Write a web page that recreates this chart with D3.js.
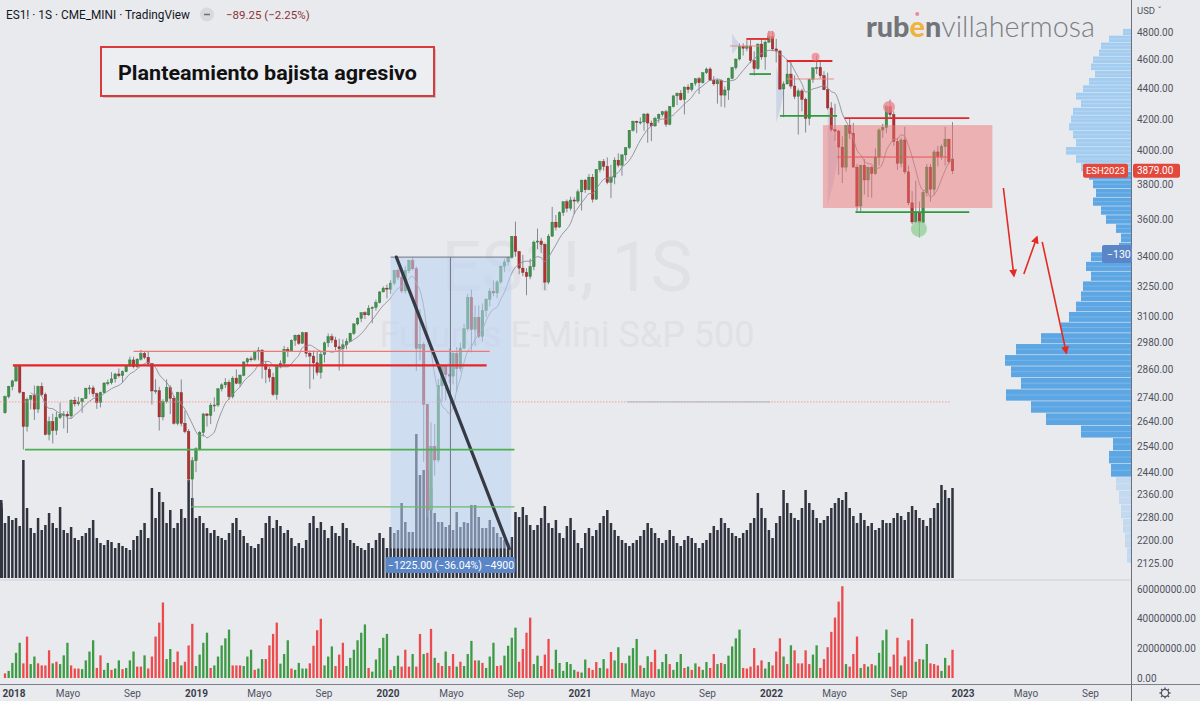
<!DOCTYPE html>
<html><head><meta charset="utf-8">
<script src="https://cdn.jsdelivr.net/npm/d3@7"></script>
<style>
html,body{margin:0;padding:0;background:#e9eaee;}
svg{display:block;font-family:Roboto,"Noto Sans",sans-serif;}
</style></head><body>
<svg id="chart" width="1200" height="701"></svg>
<script>
// ---------------- DATA ----------------
const firstWeek = "2018-01-01";
// weekly [open, high, low, close]
const ohlc = [
[2676,2748,2672,2743],[2743,2789,2735,2786],[2786,2815,2770,2810],[2810,2878,2805,2873],[2873,2880,2755,2762],
[2762,2763,2529,2620],[2620,2740,2600,2732],[2732,2750,2690,2747],[2747,2790,2647,2691],[2691,2790,2675,2786],
[2786,2803,2745,2752],[2752,2760,2585,2588],[2588,2660,2565,2640],[2640,2672,2553,2604],[2604,2680,2586,2656],
[2656,2718,2650,2670],[2670,2683,2612,2670],[2670,2682,2594,2663],[2663,2732,2655,2728],[2728,2742,2702,2713],
[2713,2742,2705,2721],[2721,2736,2676,2735],[2735,2780,2733,2779],[2779,2792,2753,2780],[2780,2790,2742,2755],
[2755,2760,2692,2718],[2718,2764,2698,2760],[2760,2804,2757,2801],[2801,2816,2790,2802],[2802,2848,2795,2819],
[2819,2845,2803,2840],[2840,2864,2825,2833],[2833,2856,2803,2850],[2850,2877,2848,2875],[2875,2917,2873,2902],
[2902,2916,2865,2872],[2872,2910,2866,2905],[2905,2947,2899,2930],[2930,2940,2905,2914],[2914,2940,2874,2886],
[2886,2888,2710,2767],[2767,2817,2755,2768],[2768,2785,2604,2659],[2659,2732,2645,2723],[2723,2817,2715,2781],
[2781,2791,2671,2736],[2736,2746,2628,2633],[2633,2764,2625,2760],[2760,2816,2621,2633],[2633,2685,2593,2600],
[2600,2610,2408,2417],[2417,2500,2317,2486],
[2486,2538,2443,2532],[2532,2602,2525,2596],[2596,2675,2580,2671],[2671,2675,2620,2665],[2665,2716,2630,2707],
[2707,2740,2680,2708],[2708,2780,2700,2776],[2776,2800,2765,2793],[2793,2822,2780,2804],[2804,2815,2730,2743],
[2743,2830,2735,2822],[2822,2860,2796,2800],[2800,2840,2785,2834],[2834,2896,2830,2893],[2893,2912,2880,2907],
[2907,2918,2895,2905],[2905,2944,2898,2940],[2940,2960,2900,2946],[2946,2950,2820,2881],[2881,2895,2800,2860],
[2860,2870,2806,2826],[2826,2845,2745,2752],[2752,2880,2730,2873],[2873,2900,2865,2887],[2887,2965,2880,2950],
[2950,2960,2915,2942],[2942,2995,2940,2990],[2990,3017,2965,3014],[3014,3020,2970,2977],[2977,3030,2975,3026],
[3026,3029,2914,2932],[2932,2945,2776,2919],[2919,2945,2817,2889],[2889,2940,2834,2847],[2847,2940,2820,2926],
[2926,2985,2890,2979],[2979,3022,2960,3007],[3007,3021,2978,2992],[2992,3007,2945,2961],[2961,2998,2855,2952],
[2952,2995,2874,2970],[2970,3000,2950,2986],[2986,3027,2985,3023],[3023,3070,3015,3067],[3067,3098,3060,3093],
[3093,3122,3075,3120],[3120,3127,3090,3110],[3110,3156,3105,3141],[3141,3150,3070,3146],[3146,3183,3130,3169],
[3169,3225,3165,3221],[3221,3248,3220,3240],
[3240,3258,3190,3235],[3235,3280,3212,3265],[3265,3332,3255,3330],[3330,3338,3280,3295],[3295,3338,3215,3226],
[3226,3350,3214,3328],[3328,3385,3315,3380],[3380,3397,3330,3338],[3338,3350,2853,2954],[2954,3137,2900,2972],
[2972,2982,2482,2711],[2711,2713,2280,2305],[2305,2637,2174,2541],[2541,2630,2430,2489],[2489,2818,2480,2790],
[2790,2880,2720,2875],[2875,2880,2727,2837],[2837,2954,2800,2831],[2831,2940,2795,2930],[2930,2960,2766,2864],
[2864,2980,2850,2955],[2955,3068,2950,3044],[3044,3211,3035,3194],[3194,3233,2936,3041],[3041,3155,2965,3098],
[3098,3155,3000,3009],[3009,3165,2985,3130],[3130,3190,3100,3185],[3185,3240,3150,3225],[3225,3280,3200,3216],
[3216,3280,3190,3271],[3271,3354,3260,3351],[3351,3390,3320,3373],[3373,3400,3355,3397],[3397,3510,3390,3508],
[3508,3588,3400,3427],[3427,3430,3310,3341],[3341,3410,3300,3319],[3319,3340,3205,3298],[3298,3390,3285,3348],
[3348,3485,3330,3477],[3477,3550,3440,3483],[3483,3500,3420,3465],[3465,3470,3230,3270],[3270,3520,3260,3509],
[3509,3670,3505,3585],[3585,3625,3540,3558],[3558,3645,3555,3638],[3638,3700,3620,3699],[3699,3712,3640,3663],
[3663,3728,3650,3709],[3709,3725,3630,3703],[3703,3770,3690,3756],
[3756,3826,3650,3824],[3824,3830,3750,3768],[3768,3860,3765,3841],[3841,3860,3695,3714],[3714,3890,3710,3886],
[3886,3940,3870,3934],[3934,3950,3880,3906],[3906,3960,3800,3811],[3811,3915,3720,3842],[3842,3960,3800,3943],
[3943,3985,3900,3913],[3913,3980,3850,3975],[3975,4020,3940,4019],[4019,4130,4010,4128],[4128,4190,4120,4185],
[4185,4190,4110,4180],[4180,4210,4165,4181],[4181,4237,4125,4232],[4232,4240,4050,4174],[4174,4190,4060,4156],
[4156,4215,4150,4204],[4204,4235,4175,4229],[4229,4252,4215,4247],[4247,4260,4150,4166],[4166,4285,4160,4280],
[4280,4355,4275,4352],[4352,4375,4290,4369],[4369,4390,4320,4327],[4327,4415,4230,4411],[4411,4430,4370,4395],
[4395,4440,4380,4437],[4437,4470,4420,4468],[4468,4480,4365,4441],[4441,4510,4435,4509],[4509,4545,4500,4535],
[4535,4548,4455,4458],[4458,4485,4420,4433],[4433,4465,4300,4455],[4455,4465,4280,4357],[4357,4415,4275,4391],
[4391,4475,4325,4471],[4471,4550,4465,4545],[4545,4608,4530,4605],[4605,4715,4595,4697],[4697,4718,4630,4682],
[4682,4740,4660,4698],[4698,4745,4575,4595],[4595,4660,4490,4538],[4538,4715,4530,4712],[4712,4750,4600,4620],
[4620,4740,4530,4726],[4726,4808,4720,4766],
[4766,4808,4660,4677],[4677,4750,4580,4662],[4662,4670,4390,4398],[4398,4450,4212,4432],[4432,4590,4430,4500],
[4500,4595,4400,4418],[4418,4490,4330,4349],[4349,4400,4101,4385],[4385,4400,4250,4329],[4329,4340,4114,4204],
[4204,4470,4160,4463],[4463,4545,4440,4543],[4543,4630,4500,4546],[4546,4590,4470,4488],[4488,4520,4390,4393],
[4393,4510,4260,4272],[4272,4310,4120,4132],[4132,4300,4062,4123],[4123,4130,3855,4023],[4023,4090,3807,3901],
[3901,4160,3875,4158],[4158,4200,4073,4109],[4109,4175,3900,3901],[3901,3920,3639,3675],[3675,3915,3640,3912],
[3912,3950,3740,3825],[3825,3905,3725,3899],[3899,3910,3723,3863],[3863,4015,3855,3962],[3962,4140,3910,4130],
[4130,4170,4080,4145],[4145,4290,4110,4280],[4280,4327,4210,4228],[4228,4250,4030,4057],[4057,4080,3885,3924],
[3924,4080,3900,4067],[4067,4150,3860,3873],[3873,3910,3680,3693],[3693,3760,3575,3586],[3586,3820,3580,3640],
[3640,3700,3502,3583],[3583,3765,3580,3752],[3752,3920,3730,3901],[3901,3920,3700,3771],[3771,4005,3735,3993],
[3993,4030,3905,3965],[3965,4040,3945,4026],[4026,4150,3910,4072],[4072,4075,3918,3934],[3950,4180,3860,3879]
];
// gray volume shown inside the price pane (hundred-thousand contracts)
const volumeMain = [
55,62,58,60,52,118,70,50,45,60,48,53,65,55,50,71,48,45,51,40,38,42,45,50,58,40,35,33,38,36,30,35,32,30,28,38,
42,48,55,40,90,60,86,76,55,68,50,55,69,60,98,80,60,
62,55,50,45,48,42,40,38,45,55,60,48,42,35,32,30,34,40,55,62,50,58,52,45,48,40,32,35,30,38,55,62,50,56,48,40,52,45,
42,55,50,38,35,32,30,28,35,30,38,45,40,30,
51,45,48,75,56,46,46,144,103,108,108,89,65,56,56,51,53,48,66,51,56,55,73,73,61,50,50,58,51,45,41,38,35,41,66,61,71,63,53,48,53,
60,72,55,50,58,45,40,52,60,48,35,30,45,50,42,48,55,62,68,55,48,42,38,35,32,35,38,42,48,55,50,45,40,35,38,
48,42,35,32,38,42,40,35,30,35,38,45,52,48,60,55,50,45,42,40,45,48,55,60,85,70,60,48,40,55,
62,88,75,65,60,58,70,88,75,68,60,55,58,62,70,75,80,78,86,70,62,55,65,58,52,55,48,50,58,55,
55,60,65,62,58,66,72,68,60,58,52,60,70,75,93,88,80,90,78,75,70,65,60,62,68,45,50,71
];
// lower pane volume (millions)
const volumeLower = [
3.1,4.8,10.2,17,23.8,9.9,28,9.4,14.5,9.9, 8.5,8.5,18.7,9.9,11,9.4,15.3,23.8,8.5,6.4,
6.4,6,11.9,17.9,25.5,6.8,15.3,5.5,10.2,5.5, 6.4,11.9,6,6.8,11.9,17.9,7.7,7.7,15.3,6.4,
14.5,28,37.4,51,12.8,19.6,10.8,17.9,8.5,11, 22,36.6,8.1,15.8,23.8,30.6,6.8,8.5,14.5,22,
26.8,32.7,8.5,8.5,8.5,8.1,14.5,19.1,5.5,6.4, 12.8,12.8,22,29.8,37.4,9.7,16.2,25.5,6.4,5.5,
10.2,6.4,6.4,9.9,21.8,32.3,40,8.5,14.5,21.3, 8.1,15.8,23.8,8.1,13.6,19.1,25.5,30.6,36.2,6.8,
4.3,12.5,20.2,27.2,29.8,5.5,8.1,15.1,7.7,19.1, 7.7,16.2,7.7,29.8,16.2,17,33.2,13.6,10.2,8.1,
17.9,8.1,16.2,7.7,11,8.1,16.2,25.1,11.9,11.9, 10.2,6.8,14.5,23.8,8.1,8.5,15.1,21.8,27.2,34,
11,19.6,30.6,40.8,9.4,15.1,8.1,15.8,26.4,6, 19.1,10.2,4.8,10.8,9.4,5.5,4.3,3.7,12.5,6.8,
5.5,10.8,6.8,12.8,
6.4,17.6,11.9,20.8,10.2,9.9,15.1,20.2,26.4,8.5, 6.8,14.7,10.8,19.1,6,10.8,16.2,9.4,5.5,10.8,
16.2,6.8,7.7,5.5,9.9,7.7,5.5,10.8,6.8, 16.2,9.4,10.2,9.4,15.1,21.3,26.8,32.7,6.8,6.4,
7.7,20.2,8.5,11.9,6.4,10.8,8.5,17.9,26.8,14.5, 9.4,22.1,18.7,9.9,9.9,18.7,9.4,15.8,22.1,6.8,
12.8,20.8,31.2,40.8,51.6,62,9.4,7.7,16.2,28, 6.8,9.4,7.7,9.4,8.5,17,25.5,32.7,7.7,15.8,
27.2,8.5,14.5,25.5,40,11,12.8,12.5,23,9.9, 9.4,8.5,4.8,13.6,8.5,19.1
];
const volumeLowerSide = ("rggggrrggr"+"rrrgrgggrr"+"rggggrrggr"+"ggrgggrrgr"+"rrrrggrrgr"+"rrggggrggg"+
 "ggrrrgggrg"+"grrrrgggrg"+"gggrrrrggg"+"rrrggggggr"+"gggggrggrr"+"rgrrgrrgrr"+"grrgrgggrg"+"rgggrrgggg"+
 "rrrrggrrrr"+"ggggggrggr"+"rrgg"+
 "rrggrggggr"+"ggrrgggrgg"+"grgrgrggr"+"rgrgggggrr"+"rrrrggrrrg"+"rgrrrrrggr"+"rrrrrrgrrr"+"grgrggggrr"+
 "rgrrrgrggr"+"rrggrr").split("");
// volume profile rows (centre price, 50-pt rows) and their volume
const profilePrices = [2150,2200,2250,2300,2350,2400,2450,2500,2550,2600,2650,2700,2750,2800,2850,2900,2950,3000,
 3050,3100,3150,3200,3250,3300,3350,3400,3450,3500,3550,3600,3650,3700,3750,3800,3850,3900,3950,4000,4050,4100,
 4150,4200,4250,4300,4350,4400,4450,4500,4550,4600,4650,4700,4750,4800];
const profileVolumes = [4,6,8,10,12,15,20,22,18,50,85,100,125,110,120,126,115,90,70,62,55,50,48,40,45,40,12,10,15,
 25,30,38,35,38,42,50,55,65,55,58,62,60,58,50,55,48,42,36,40,38,32,30,22,8];
const valueArea = [2425, 3875];
// small fixed-range profiles drawn on the chart: [start date, top price, bottom price, width in weeks]
const rangeProfiles = [
 ["2021-10-18", 4790, 4640, 2],
 ["2022-01-10", 4560, 4180, 2],
 ["2022-04-18", 4300, 3680, 3]
];
const priceTicks = [4800,4600,4400,4200,4000,3800,3600,3400,3250,3100,2980,2860,2740,2640,2540,2440,2360,2280,2200,2125];
const lowerTicks = [0,20000000,40000000,60000000];
const timeTickDates = ["2018-01-01","2018-05-01","2018-09-01","2019-01-01","2019-05-01","2019-09-01","2020-01-01",
 "2020-05-01","2020-09-01","2021-01-01","2021-05-01","2021-09-01","2022-01-01","2022-05-01","2022-09-01",
 "2023-01-01","2023-05-01","2023-09-01"];
const timeTickLabels = ["2018","Mayo","Sep","2019","Mayo","Sep","2020","Mayo","Sep","2021","Mayo","Sep","2022","Mayo",
 "Sep","2023","Mayo","Sep"];
const lastPrice = 3879;

// annotations: date/price anchored
const hLines = [
 {a:"2018-01-16",b:"2020-07-07",p:2878,c:"#e3262b",w:2.2},
 {a:"2018-09-03",b:"2020-07-13",p:2940,c:"#ee7777",w:1.2},
 {a:"2018-02-08",b:"2020-08-29",p:2529,c:"#4caf50",w:1.6},
 {a:"2018-12-22",b:"2020-08-29",p:2316,c:"#66bb6a",w:1.1},
 {a:"2021-11-14",b:"2021-12-28",p:4749,c:"#e3262b",w:1.8},
 {a:"2021-10-14",b:"2021-12-10",p:4698,c:"#f08a8a",w:1},
 {a:"2021-11-20",b:"2021-12-31",p:4500,c:"#2e9a3a",w:1.8},
 {a:"2022-01-30",b:"2022-04-27",p:4591,c:"#e3262b",w:1.8},
 {a:"2022-01-30",b:"2022-04-30",p:4466,c:"#f08a8a",w:1},
 {a:"2022-01-17",b:"2022-05-06",p:4220,c:"#2e9a3a",w:1.8},
 {a:"2022-05-20",b:"2023-01-13",p:4206,c:"#e3262b",w:1.8},
 {a:"2022-05-06",b:"2022-12-05",p:3962,c:"#e85555",w:1},
 {a:"2022-06-10",b:"2023-01-13",p:3641,c:"#2e9a3a",w:1.8}
];
const circles = [
 {d:"2021-12-31",p:4778,r:4,c:"#ef7f86"},
 {d:"2022-03-26",p:4621,r:4,c:"#ef7f86"},
 {d:"2022-08-13",p:4278,r:6,c:"#ef7f86"},
 {d:"2022-10-09",p:3548,r:8,c:"#8fcf93"}
];
const arrows = [
 {a:"2023-03-19",pa:3778,b:"2023-04-08",pb:3301},
 {a:"2023-04-27",pa:3311,b:"2023-05-22",pb:3505},
 {a:"2023-06-01",pa:3478,b:"2023-07-17",pb:2933}
];

// ---------------- CHART ----------------
const svg = d3.select("#chart");
const W = 1200, H = 701, axisX = 1131;
const D = s => new Date(s + "T00:00:00Z");
const x = d3.scaleUtc().domain([D("2018-01-01"), D("2023-01-01")]).range([5, 963]);
const y = d3.scaleLog().domain([2125, 4800]).range([563, 32]);
const yVolMain = d3.scaleLinear().domain([0, 150]).range([578, 428]);
const yVolLow = d3.scaleLinear().domain([0, 60]).range([678, 589.2]);
const profW = d3.scaleLinear().domain([0, 130]).range([0, 130]);
const dates = ohlc.map((d, i) => d3.utcDay.offset(D(firstWeek), 7 * i));
const bw = 2.5;

svg.append("rect").attr("width", W).attr("height", H).attr("fill", "#e9eaee");

// watermark
svg.append("text").attr("x", 567).attr("y", 291).attr("text-anchor", "middle")
  .attr("font-size", 70).attr("fill", "#e0e1e6").text("ES1!, 1S");
svg.append("text").attr("x", 567).attr("y", 347).attr("text-anchor", "middle")
  .attr("font-size", 36).attr("fill", "#e0e1e6").text("Futuros E-Mini S&P 500");

// volume profile
const rowH = p => [y(p + 25), y(p - 25)];
const pg = svg.append("g");
pg.selectAll("rect").data(profilePrices).join("rect")
  .attr("x", (p, i) => axisX - profW(profileVolumes[i]))
  .attr("y", p => rowH(p)[0] + 0.3)
  .attr("width", (p, i) => profW(profileVolumes[i]))
  .attr("height", p => Math.max(0.5, rowH(p)[1] - rowH(p)[0] - 0.6))
  .attr("fill", p => p < valueArea[0] ? "#c2d9ef" : (p <= valueArea[1] ? "#5da6e4" : "#a2ccf0"));
pg.selectAll("line").data(profilePrices).join("line")
  .attr("x1", (p, i) => axisX - profW(profileVolumes[i])).attr("x2", axisX)
  .attr("y1", p => y(p)).attr("y2", p => y(p))
  .attr("stroke", p => p < valueArea[0] ? "#d6e5f3" : (p <= valueArea[1] ? "#8cc0ec" : "#c4def5")).attr("stroke-width", 0.6);

// small fixed-range profiles (faint)
svg.append("g").selectAll("path").data(rangeProfiles).join("path")
  .attr("d", r => {
    const x0 = x(D(r[0])), x1 = x(d3.utcDay.offset(D(r[0]), 7 * r[3]));
    const y0 = y(r[1]), y1 = y(r[2]), ym = (y0 + y1) / 2;
    return `M${x0},${y0} L${x0 + (x1 - x0) * 0.4},${y0 + (y1 - y0) * 0.25} L${x1},${ym} L${x0 + (x1 - x0) * 0.5},${y1 - (y1 - y0) * 0.2} L${x0},${y1} Z`;
  })
  .attr("fill", "#9fb0d8").attr("opacity", 0.35);

// gray volume in price pane
svg.append("g").selectAll("rect").data(volumeMain).join("rect")
  .attr("x", (v, i) => x(dates[i]) - bw / 2).attr("width", bw)
  .attr("y", v => yVolMain(v)).attr("height", v => yVolMain(0) - yVolMain(v))
  .attr("fill", "#30343f");

// candles
const cg = svg.append("g");
cg.selectAll("line").data(ohlc).join("line")
  .attr("x1", (d, i) => x(dates[i])).attr("x2", (d, i) => x(dates[i]))
  .attr("y1", d => y(d[1])).attr("y2", d => y(d[2]))
  .attr("stroke", "#6b6e78").attr("stroke-width", 0.8);
cg.selectAll("rect").data(ohlc).join("rect")
  .attr("x", (d, i) => x(dates[i]) - bw / 2).attr("width", bw)
  .attr("y", d => y(Math.max(d[0], d[3])))
  .attr("height", d => Math.max(1, Math.abs(y(d[0]) - y(d[3]))))
  .attr("fill", d => d[3] >= d[0] ? "#3f944b" : "#b33131")
  .attr("stroke", d => d[3] >= d[0] ? "#2c6b35" : "#7d2222").attr("stroke-width", 0.4);

// moving average of closes
const ma = ohlc.map((d, i) => i < 7 ? null : d3.mean(ohlc.slice(i - 7, i + 1), e => e[3]));
svg.append("path").datum(ma.map((m, i) => [i, m]).filter(e => e[1] != null))
  .attr("d", d3.line().x(e => x(dates[e[0]])).y(e => y(e[1])).curve(d3.curveMonotoneX))
  .attr("fill", "none").attr("stroke", "#8a8d96").attr("stroke-width", 0.9);

// dotted level line
svg.append("line").attr("x1", 0).attr("x2", 950).attr("y1", y(2721)).attr("y2", y(2721))
  .attr("stroke", "#ef8f80").attr("stroke-width", 0.8).attr("stroke-dasharray", "1.5,1.5");
svg.append("line").attr("x1", 627).attr("x2", 770).attr("y1", y(2721)).attr("y2", y(2721))
  .attr("stroke", "#b9bcc4").attr("stroke-width", 1.2);

// measure rectangle (blue)
const mA = D("2020-01-06"), mB = D("2020-08-23"), mHi = 3398, mLo = 2173;
svg.append("rect").attr("x", x(mA)).attr("y", y(mHi)).attr("width", x(mB) - x(mA)).attr("height", y(mLo) - y(mHi))
  .attr("fill", "#b9d2f4").attr("opacity", 0.55);
svg.append("line").attr("x1", x(mA)).attr("x2", x(mB)).attr("y1", y(mHi)).attr("y2", y(mHi))
  .attr("stroke", "#6f7480").attr("stroke-width", 1);
svg.append("line").attr("x1", x(D("2020-04-29"))).attr("x2", x(D("2020-04-29"))).attr("y1", y(mHi)).attr("y2", y(mLo))
  .attr("stroke", "#6f7480").attr("stroke-width", 1);
svg.append("rect").attr("x", x(mA) - 5).attr("y", 557).attr("width", x(mB) - x(mA) + 9).attr("height", 16)
  .attr("rx", 2).attr("fill", "#5a86c8");
svg.append("text").attr("x", (x(mA) + x(mB)) / 2).attr("y", 569).attr("text-anchor", "middle")
  .attr("font-size", 10.5).attr("fill", "#ffffff").text("\u22121225.00 (\u221236.04%) \u22124900");
svg.append("line").attr("x1", x(D("2020-01-17"))).attr("y1", y(mHi)).attr("x2", x(D("2020-08-19"))).attr("y2", y(mLo))
  .attr("stroke", "#363a45").attr("stroke-width", 3.2).attr("stroke-linecap", "round");

// red range box
svg.append("rect").attr("x", x(D("2022-04-09"))).attr("y", y(4161))
  .attr("width", x(D("2023-02-26")) - x(D("2022-04-09"))).attr("height", y(3664) - y(4161))
  .attr("fill", "#f07373").attr("opacity", 0.48);

// horizontal annotation lines
svg.append("g").selectAll("line").data(hLines).join("line")
  .attr("x1", d => x(D(d.a))).attr("x2", d => x(D(d.b)))
  .attr("y1", d => y(d.p)).attr("y2", d => y(d.p))
  .attr("stroke", d => d.c).attr("stroke-width", d => d.w);

svg.append("g").selectAll("circle").data(circles).join("circle")
  .attr("cx", d => x(D(d.d))).attr("cy", d => y(d.p)).attr("r", d => d.r)
  .attr("fill", d => d.c).attr("opacity", 0.75);

// arrows
const defs = svg.append("defs");
defs.append("marker").attr("id", "ah").attr("viewBox", "0 0 10 10").attr("refX", 8).attr("refY", 5)
  .attr("markerWidth", 5).attr("markerHeight", 5).attr("orient", "auto")
  .append("path").attr("d", "M0,0 L10,5 L0,10 z").attr("fill", "#e22b24");
svg.append("g").selectAll("line").data(arrows).join("line")
  .attr("x1", d => x(D(d.a))).attr("y1", d => y(d.pa)).attr("x2", d => x(D(d.b))).attr("y2", d => y(d.pb))
  .attr("stroke", "#e22b24").attr("stroke-width", 1.6).attr("marker-end", "url(#ah)");

// lower pane volume
svg.append("g").selectAll("rect").data(volumeLower).join("rect")
  .attr("x", (v, i) => x(dates[i]) - 1.15).attr("width", 2.3)
  .attr("y", v => yVolLow(v)).attr("height", v => yVolLow(0) - yVolLow(v))
  .attr("fill", (v, i) => volumeLowerSide[i] === "g" ? "#3d9a45" : "#ec4a4d");

// pane separators & axes
svg.append("line").attr("x1", 0).attr("x2", axisX).attr("y1", 580).attr("y2", 580).attr("stroke", "#cfd1d7");
svg.append("line").attr("x1", 0).attr("x2", W).attr("y1", 684.5).attr("y2", 684.5).attr("stroke", "#7d808a");
svg.append("line").attr("x1", axisX + 0.5).attr("x2", axisX + 0.5).attr("y1", 0).attr("y2", H).attr("stroke", "#6d707a");

const axisFont = 10;
svg.append("g").selectAll("text").data(priceTicks).join("text")
  .attr("x", 1137).attr("y", p => y(p) + 3.5).attr("font-size", axisFont).attr("fill", "#50535e")
  .text(p => p.toFixed(2));
svg.append("g").selectAll("text").data(lowerTicks).join("text")
  .attr("x", 1137).attr("y", v => yVolLow(v / 1e6) + 3.5).attr("font-size", axisFont).attr("fill", "#50535e")
  .text(v => v.toFixed(2));
svg.append("text").attr("x", 1137).attr("y", 14).attr("font-size", 9.5).attr("fill", "#50535e").text("USD \u02C7");

svg.append("g").selectAll("text").data(timeTickDates).join("text")
  .attr("x", (d, i) => i === 0 ? 14 : x(D(d))).attr("y", 697).attr("text-anchor", "middle").attr("font-size", axisFont)
  .attr("font-weight", (d, i) => /^\d/.test(timeTickLabels[i]) ? 700 : 400)
  .attr("fill", (d, i) => /^\d/.test(timeTickLabels[i]) ? "#3b3f4a" : "#50535e")
  .text((d, i) => timeTickLabels[i]);

// last price labels
const ly = y(lastPrice);
svg.append("rect").attr("x", 1133).attr("y", ly - 7).attr("width", 47).attr("height", 14).attr("rx", 2).attr("fill", "#e2483c");
svg.append("text").attr("x", 1137).attr("y", ly + 3.5).attr("font-size", axisFont).attr("fill", "#fff").text(lastPrice.toFixed(2));
svg.append("rect").attr("x", 1083).attr("y", ly - 7).attr("width", 45).attr("height", 14).attr("rx", 2).attr("fill", "#e2483c");
svg.append("text").attr("x", 1105.5).attr("y", ly + 3.5).attr("text-anchor", "middle").attr("font-size", 9.5).attr("fill", "#fff").text("ESH2023");
// measure price label
svg.append("rect").attr("x", 1102).attr("y", 245).attr("width", 30).attr("height", 18).attr("rx", 2).attr("fill", "#5a86c8");
svg.append("text").attr("x", 1107).attr("y", 258).attr("font-size", 10.5).attr("fill", "#fff").text("\u2212130");

// gear icon
const gear = svg.append("g").attr("transform", "translate(1165,693)");
gear.append("circle").attr("r", 3.6).attr("fill", "none").attr("stroke", "#50535e").attr("stroke-width", 1.2);
d3.range(8).forEach(k => {
  const a = k * Math.PI / 4;
  gear.append("line").attr("x1", Math.cos(a) * 3.6).attr("y1", Math.sin(a) * 3.6)
    .attr("x2", Math.cos(a) * 5.6).attr("y2", Math.sin(a) * 5.6).attr("stroke", "#50535e").attr("stroke-width", 1.4);
});

// header
svg.append("text").attr("x", 6).attr("y", 19).attr("font-size", 13).attr("fill", "#131722")
  .attr("textLength", 184).attr("lengthAdjust", "spacingAndGlyphs").text("ES1! \u00B7 1S \u00B7 CME_MINI \u00B7 TradingView");
svg.append("circle").attr("cx", 207).attr("cy", 14.5).attr("r", 7).attr("fill", "#d7d9df");
svg.append("line").attr("x1", 204).attr("x2", 210).attr("y1", 14.5).attr("y2", 14.5).attr("stroke", "#6b6e78").attr("stroke-width", 1.5);
svg.append("text").attr("x", 226).attr("y", 19).attr("font-size", 11.5).attr("fill", "#8c3434").text("\u221289.25 (\u22122.25%)");

// title box
svg.append("rect").attr("x", 103).attr("y", 49).attr("width", 333).attr("height", 49).attr("fill", "#9a9da6").attr("opacity", 0.5);
svg.append("rect").attr("x", 101).attr("y", 47).attr("width", 333).attr("height", 49).attr("fill", "#eceef2")
  .attr("stroke", "#d93a3a").attr("stroke-width", 2);
svg.append("text").attr("x", 118).attr("y", 80).attr("font-size", 21).attr("font-weight", 700).attr("fill", "#111")
  .attr("textLength", 299).attr("lengthAdjust", "spacingAndGlyphs").text("Planteamiento bajista agresivo");

// logo: pieces placed one after another, sized to fit 229 px
const logoParts = [
  {t:"rub", w:900, c:"#737478"}, {t:"e", w:900, c:"#efb43f"}, {t:"n", w:900, c:"#737478"},
  {t:"villahermosa", w:300, c:"#7d7e82"}
];
const logoG = svg.append("g");
let lx = 866, eCenter = 0;
const logoTexts = logoParts.map(part => logoG.append("text").attr("y", 37).attr("font-family", "Lato, sans-serif")
  .attr("font-size", 31).attr("font-weight", part.w).attr("fill", part.c).text(part.t));
const natural = d3.sum(logoTexts, t => t.node().getComputedTextLength());
const fs = 31 * 229 / natural;
logoTexts.forEach((t, k) => {
  t.attr("font-size", fs).attr("x", lx);
  const len = t.node().getComputedTextLength();
  if (logoParts[k].t === "e") eCenter = lx + len / 2;
  lx += len;
});
svg.append("circle").attr("cx", eCenter).attr("cy", 14).attr("r", 2).attr("fill", "#e98a96");
</script>
</body></html>
